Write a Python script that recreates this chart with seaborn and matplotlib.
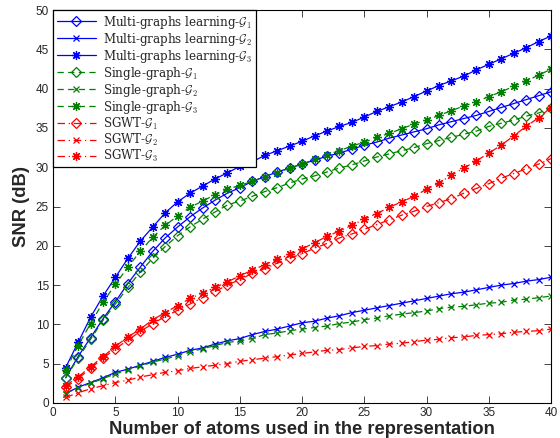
import numpy as np
import pandas as pd
import seaborn as sns
import matplotlib
matplotlib.use("Agg")
import matplotlib.pyplot as plt

# number of atoms on the x axis
atoms = np.arange(1, 41)

# SNR (dB)
mg_g1 = [3.2, 5.9, 8.3, 10.7, 12.9, 15.2, 17.3, 19.3, 21.0, 22.4,
         23.7, 24.8, 25.8, 26.7, 27.4, 28.2, 28.8, 29.4, 29.9, 30.4,
         30.9, 31.4, 31.8, 32.3, 32.8, 33.2, 33.7, 34.1, 34.5, 34.9,
         35.4, 35.8, 36.2, 36.6, 37.1, 37.6, 38.1, 38.6, 39.1, 39.6]
mg_g2 = [1.2, 2.0, 2.6, 3.2, 3.9, 4.3, 4.8, 5.3, 5.8, 6.2,
         6.7, 7.0, 7.5, 7.9, 8.2, 8.7, 9.1, 9.4, 9.8, 10.2,
         10.4, 10.8, 11.1, 11.5, 11.8, 12.1, 12.4, 12.7, 13.0, 13.3,
         13.6, 13.9, 14.1, 14.4, 14.7, 15.0, 15.2, 15.5, 15.7, 16.0]
mg_g3 = [4.5, 7.7, 10.9, 13.6, 16.0, 18.4, 20.6, 22.4, 24.2, 25.6,
         26.7, 27.6, 28.5, 29.3, 30.1, 30.7, 31.5, 32.1, 32.7, 33.3,
         34.0, 34.6, 35.2, 35.7, 36.4, 37.1, 37.7, 38.3, 39.0, 39.7,
         40.4, 41.0, 41.6, 42.4, 43.1, 43.8, 44.5, 45.2, 46.0, 46.7]
sg_g1 = [3.2, 5.7, 8.1, 10.5, 12.6, 14.7, 16.7, 18.4, 19.9, 21.3,
         22.4, 23.4, 24.3, 25.2, 25.7, 26.3, 26.9, 27.4, 28.0, 28.5,
         28.9, 29.4, 29.9, 30.3, 30.8, 31.3, 31.7, 32.1, 32.5, 33.0,
         33.4, 33.8, 34.2, 34.6, 35.2, 35.6, 36.0, 36.5, 36.9, 37.5]
sg_g2 = [1.2, 1.9, 2.5, 3.1, 3.7, 4.2, 4.7, 5.2, 5.6, 6.0,
         6.5, 6.9, 7.3, 7.7, 7.9, 8.2, 8.7, 8.9, 9.2, 9.4,
         9.6, 9.8, 10.1, 10.3, 10.6, 10.8, 11.1, 11.3, 11.5, 11.7,
         12.0, 12.2, 12.3, 12.5, 12.7, 12.8, 13.1, 13.2, 13.4, 13.6]
sg_g3 = [4.2, 7.3, 10.1, 12.8, 15.1, 17.3, 19.3, 21.1, 22.6, 23.8,
         24.9, 25.7, 26.5, 27.2, 27.7, 28.2, 28.8, 29.3, 29.9, 30.4,
         31.0, 31.6, 32.1, 32.7, 33.2, 33.8, 34.3, 34.9, 35.5, 36.0,
         36.6, 37.2, 37.8, 38.3, 39.0, 39.6, 40.3, 41.0, 41.7, 42.5]
sgwt_g1 = [2.0, 3.1, 4.4, 5.7, 6.9, 8.0, 9.1, 10.1, 11.0, 11.8,
           12.6, 13.4, 14.2, 15.0, 15.7, 16.5, 17.1, 17.8, 18.4, 19.0,
           19.7, 20.3, 21.0, 21.5, 22.1, 22.7, 23.3, 23.9, 24.4, 25.0,
           25.5, 26.0, 26.7, 27.3, 27.9, 28.6, 29.2, 29.8, 30.4, 31.1]
sgwt_g2 = [0.7, 1.3, 1.8, 2.2, 2.6, 2.9, 3.3, 3.6, 3.9, 4.1,
           4.4, 4.6, 4.8, 5.0, 5.3, 5.5, 5.7, 5.9, 6.1, 6.3,
           6.5, 6.7, 6.8, 7.0, 7.2, 7.3, 7.5, 7.6, 7.8, 8.0,
           8.1, 8.3, 8.4, 8.6, 8.7, 8.8, 9.0, 9.1, 9.2, 9.4]
sgwt_g3 = [2.2, 3.3, 4.6, 5.9, 7.2, 8.4, 9.4, 10.6, 11.5, 12.4,
           13.3, 14.0, 14.7, 15.4, 16.2, 16.9, 17.6, 18.3, 18.9, 19.6,
           20.4, 21.2, 21.9, 22.6, 23.4, 24.1, 24.9, 25.6, 26.3, 27.2,
           28.0, 29.0, 29.9, 30.8, 31.8, 32.8, 34.0, 35.2, 36.3, 37.6]

labels = [r"Multi-graphs learning-$\mathcal{G}_1$",
          r"Multi-graphs learning-$\mathcal{G}_2$",
          r"Multi-graphs learning-$\mathcal{G}_3$",
          r"Single-graph-$\mathcal{G}_1$",
          r"Single-graph-$\mathcal{G}_2$",
          r"Single-graph-$\mathcal{G}_3$",
          r"SGWT-$\mathcal{G}_1$",
          r"SGWT-$\mathcal{G}_2$",
          r"SGWT-$\mathcal{G}_3$"]
series = [mg_g1, mg_g2, mg_g3, sg_g1, sg_g2, sg_g3, sgwt_g1, sgwt_g2, sgwt_g3]

sns.set_style("ticks")
plt.rcParams["font.family"] = ["Liberation Sans", "DejaVu Sans"]
plt.rcParams["mathtext.fontset"] = "cm"

colors = ["#0000ff"] * 3 + ["#008000"] * 3 + ["#ff0000"] * 3
styles = ["-"] * 3 + [(0, (5, 3.5))] * 3 + [(0, (6, 3, 1, 3))] * 3
markers = ["D", "x", (8, 2, 0)] * 3
msizes = [5, 4.5, 6.5] * 3

fig, ax = plt.subplots(figsize=(5.6, 4.38), dpi=100)
fig.subplots_adjust(left=0.095, right=0.984, bottom=0.08, top=0.977)

for vals, lab, c, ls, m, ms in zip(series, labels, colors, styles, markers, msizes):
    df = pd.DataFrame({"atoms": atoms, "snr": vals})
    sns.lineplot(data=df, x="atoms", y="snr", ax=ax, color=c, linestyle=ls,
                 linewidth=0.9, marker=m, markersize=ms, mfc="none",
                 mec=c, mew=0.9, label=lab, legend=False)

ax.set_xlim(0, 40)
ax.set_ylim(0, 50)
ax.set_xticks(np.arange(0, 41, 5))
ax.set_yticks(np.arange(0, 51, 5))
ax.tick_params(direction="in", top=True, right=True, length=5, width=0.6,
               labelsize=8.5, pad=3)
for sp in ax.spines.values():
    sp.set_linewidth(0.8)
    sp.set_color("black")

ax.set_xlabel("Number of atoms used in the representation", fontsize=13.2,
              fontweight="bold", labelpad=1)
ax.set_ylabel("SNR (dB)", fontsize=13.2, fontweight="bold", labelpad=4)

handles, labs = ax.get_legend_handles_labels()
leg = ax.legend(handles, labs, loc="upper left", bbox_to_anchor=(0, 1),
                borderaxespad=0, fancybox=False, framealpha=1,
                edgecolor="black", handlelength=3.3, labelspacing=0.0,
                handletextpad=0.6,
                prop={"family": "DejaVu Serif", "size": 8.6}, borderpad=0.3)
leg.get_frame().set_linewidth(0.9)

plt.savefig("out.png", dpi=100)
